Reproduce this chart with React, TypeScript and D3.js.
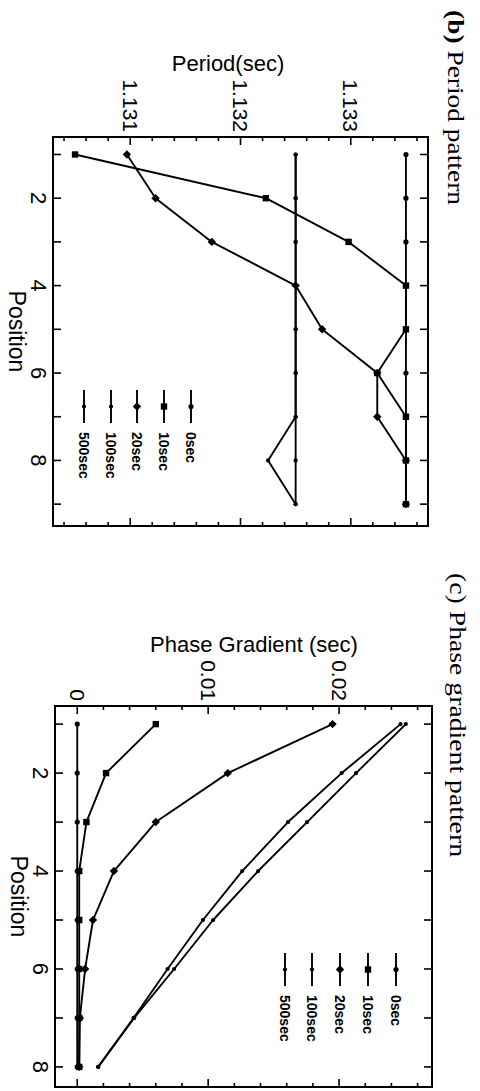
import * as d3 from 'd3';

// legend / series names, same for both panels
const seriesNames = ['0sec', '10sec', '20sec', '100sec', '500sec'];
const markerKinds = ['dot', 'square', 'diamond', 'small', 'small'];

// (b) period pattern, positions 1..9
const periodPositions = [1, 2, 3, 4, 5, 6, 7, 8, 9];
const period0 = [1.1335, 1.1335, 1.1335, 1.1335, 1.1335, 1.1335, 1.1335, 1.1335, 1.1335];
const period10 = [1.1305, 1.13223, 1.13298, 1.1335, 1.1335, 1.13324, 1.1335, 1.1335, 1.1335];
const period20 = [1.13097, 1.13123, 1.13174, 1.1325, 1.13274, 1.13324, 1.13324, 1.1335, 1.1335];
const period100 = [1.1325, 1.1325, 1.1325, 1.1325, 1.1325, 1.1325, 1.1325, 1.1325, 1.1325];
const period500 = [1.1325, 1.1325, 1.1325, 1.1325, 1.1325, 1.1325, 1.1325, 1.13225, 1.1325];
const periodTicks = [1.131, 1.132, 1.133];

// (c) phase gradient pattern, positions 1..8
const phasePositions = [1, 2, 3, 4, 5, 6, 7, 8];
const phase0 = [0, 0, 0, 0, 0, 0, 0, 0];
const phase10 = [0.006, 0.0022, 0.0007, 0.00015, 0.00015, 0.00015, 0.00015, 0.00015];
const phase20 = [0.0195, 0.0115, 0.006, 0.0028, 0.0012, 0.0006, 0.0002, 0.00015];
const phase100 = [0.0251, 0.0213, 0.01756, 0.01382, 0.01038, 0.0074, 0.00435, 0.0016];
const phase500 = [0.0247, 0.0202, 0.0161, 0.0126, 0.0096, 0.0069, 0.0043, 0.0016];
const phaseTicks = [0, 0.01, 0.02];

const positionLabels = [2, 4, 6, 8];

const sans = '"Liberation Sans", Arial, Helvetica, sans-serif';
const serif = '"Liberation Serif", "Times New Roman", serif';

function Marker({ kind, x, y }) {
  if (kind === 'square') return <rect x={x - 3.2} y={y - 3.2} width={6.4} height={6.4} fill="#000" />;
  if (kind === 'diamond') {
    const r = 4.2;
    return <polygon points={`${x},${y - r} ${x + r},${y} ${x},${y + r} ${x - r},${y}`} fill="#000" />;
  }
  if (kind === 'dot') return <circle cx={x} cy={y} r={2.6} fill="#000" />;
  return <circle cx={x} cy={y} r={2.1} fill="#000" />;
}

function Panel({ box, xDomain, yDomain, positions, series, yTicks, yMinorStep, yFormat, title, titleBold, titleLength, yTitle, legendV, legendU }) {
  const boxW = box.right - box.left; // becomes original height
  const boxH = box.bottom - box.top; // becomes original width
  // original (unrotated) frame: u = position, v = value (down)
  const x = d3.scaleLinear().domain(xDomain).range([0, boxH]);
  const y = d3.scaleLinear().domain(yDomain).range([boxW, 0]);
  const line = d3.line().x((d) => x(d[0])).y((d) => y(d[1]));

  const minor = d3.range(Math.ceil(yDomain[0] / yMinorStep), Math.floor(yDomain[1] / yMinorStep) + 1).map((i) => i * yMinorStep);
  const xTicks = d3.range(Math.ceil(xDomain[0]), Math.floor(xDomain[1]) + 1);

  return (
    <g transform={`translate(${box.right},${box.top}) rotate(90)`}>
      <text x={-(box.top - title.start)} y={-(title.baseline - box.right)} fontFamily={serif} fontSize={23} textLength={titleLength} lengthAdjust="spacingAndGlyphs">
        <tspan fontWeight={titleBold ? 'bold' : 'normal'}>{title.tag}</tspan>
        {' ' + title.text}
      </text>
      <text transform={`translate(${yTitle.u},${yTitle.v}) rotate(-90)`} textAnchor="middle" fontFamily={sans} fontSize={22}>
        {yTitle.text}
      </text>

      {/* frame */}
      <rect x={0} y={0} width={boxH} height={boxW} fill="none" stroke="#000" strokeWidth={2} />

      {/* value ticks on both sides */}
      {minor.map((t, i) => {
        const major = yTicks.some((m) => Math.abs(m - t) < 1e-9);
        const len = major ? 8 : 4;
        return (
          <g key={'yt' + i}>
            <line x1={0} x2={len} y1={y(t)} y2={y(t)} stroke="#000" strokeWidth={1.6} />
            <line x1={boxH} x2={boxH - len} y1={y(t)} y2={y(t)} stroke="#000" strokeWidth={1.6} />
          </g>
        );
      })}
      {yTicks.map((t) => (
        <text key={'yl' + t} x={-5} y={y(t)} textAnchor="end" dominantBaseline="central" fontFamily={sans} fontSize={21}>
          {yFormat(t)}
        </text>
      ))}

      {/* position ticks */}
      {xTicks.map((t) => (
        <g key={'xt' + t}>
          <line x1={x(t)} x2={x(t)} y1={0} y2={8} stroke="#000" strokeWidth={1.6} />
          <line x1={x(t)} x2={x(t)} y1={boxW} y2={boxW - 8} stroke="#000" strokeWidth={1.6} />
        </g>
      ))}
      {positionLabels.filter((p) => p <= xDomain[1]).map((p) => (
        <text key={'xl' + p} x={x(p)} y={boxW + 22} textAnchor="middle" fontFamily={sans} fontSize={22}>
          {p}
        </text>
      ))}
      <text x={boxH / 2} y={boxW + 44} textAnchor="middle" fontFamily={sans} fontSize={23}>
        Position
      </text>

      {/* series */}
      {series.map((vals, si) => {
        const pts = positions.map((p, i) => [p, vals[i]]);
        return (
          <g key={'s' + si}>
            <path d={line(pts)} fill="none" stroke="#000" strokeWidth={1.9} strokeLinejoin="round" />
            {pts.map((d, i) => (
              <Marker key={i} kind={markerKinds[si]} x={x(d[0])} y={y(d[1])} />
            ))}
          </g>
        );
      })}

      {/* legend */}
      {seriesNames.map((name, i) => (
        <g key={'lg' + i}>
          <line x1={legendU} x2={legendU + 33} y1={legendV[i]} y2={legendV[i]} stroke="#000" strokeWidth={1.9} />
          <Marker kind={markerKinds[i]} x={legendU + 16.5} y={legendV[i]} />
          <text x={legendU + 42} y={legendV[i]} dominantBaseline="central" fontFamily={sans} fontSize={14} fontWeight="bold">
            {name}
          </text>
        </g>
      ))}
    </g>
  );
}

export default function App() {
  return (
    <svg width={480} height={1091} style={{ position: 'absolute', left: 0, top: 0, background: '#fff' }}>
      <rect x={0} y={0} width={480} height={1091} fill="#fff" />
      <Panel
        box={{ left: 53, right: 428, top: 137, bottom: 526 }}
        xDomain={[0.6, 9.5]}
        yDomain={[1.1303, 1.1337]}
        positions={periodPositions}
        series={[period0, period10, period20, period100, period500]}
        yTicks={periodTicks}
        yMinorStep={0.0002}
        yFormat={(t) => t.toFixed(3)}
        title={{ tag: '(b)', text: 'Period pattern', start: 10, baseline: 448 }}
        titleBold={true}
        titleLength={195}
        yTitle={{ text: 'Period(sec)', u: -66, v: 200 }}
        legendV={[237, 264, 291, 317, 344]}
        legendU={253}
      />
      <Panel
        box={{ left: 55, right: 432, top: 706, bottom: 1087 }}
        xDomain={[0.63, 8.41]}
        yDomain={[-0.0017, 0.0271]}
        positions={phasePositions}
        series={[phase0, phase10, phase20, phase100, phase500]}
        yTicks={phaseTicks}
        yMinorStep={0.002}
        yFormat={(t) => (t === 0 ? '0' : String(+t.toFixed(2)))}
        title={{ tag: '(c)', text: 'Phase gradient pattern', start: 573, baseline: 450 }}
        titleBold={false}
        titleLength={284}
        yTitle={{ text: 'Phase Gradient (sec)', u: -54, v: 178 }}
        legendV={[36, 64, 92, 120, 147]}
        legendU={247}
      />
    </svg>
  );
}
